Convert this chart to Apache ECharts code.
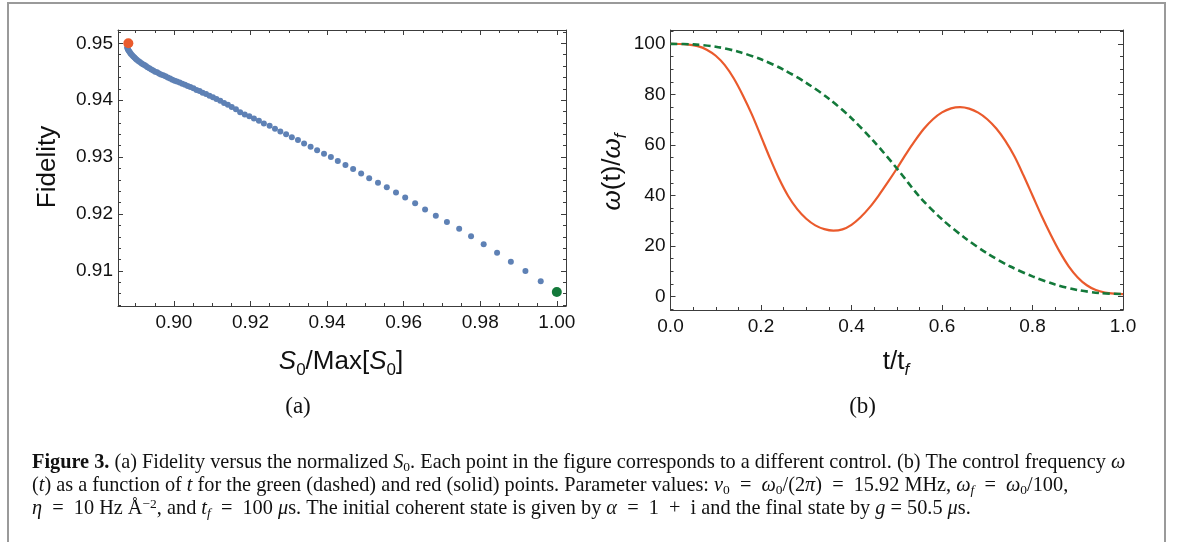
<!DOCTYPE html>
<html><head><meta charset="utf-8">
<script src="https://cdn.jsdelivr.net/npm/echarts@6/dist/echarts.min.js"></script>
<style>html,body{margin:0;padding:0;background:#fff}#c{width:1182px;height:542px}</style>
</head><body><div id="c"></div>
<script>
// ---------- data: panel (a) ----------
const fidX = [0.8878,0.8879,0.8880,0.8882,0.8884,0.8886,0.8888,0.8891,0.8894,0.8897,0.8900,0.8903,0.8907,0.8911,0.8915,0.8919,0.8923,0.8927,0.8931,0.8936,0.8941,0.8946,0.8951,0.8956,0.8961,0.8966,0.8972,0.8978,0.8984,0.8990,0.8996,0.9002,0.9008,0.9015,0.9022,0.9029,0.9036,0.9043,0.9051,0.9059,0.9067,0.9075,0.9084,0.9093,0.9102,0.9111,0.9121,0.9131,0.9141,0.9151,0.9162,0.9173,0.9185,
  0.9197,0.9209,0.9222,0.9235,0.9250,0.9264,0.9278,0.9293,0.9308,0.9324,0.9340,0.9357,0.9374,0.9392,0.9410,0.9428,0.9448,0.9468,0.9489,0.9510,0.9533,0.9556,0.9580,0.9604,0.9630,0.9656,0.9684,0.9713,0.9745,0.9776,0.9809,0.9844,0.9880,0.9918,0.9958];
const fidY = [0.9493,0.9491,0.9489,0.9487,0.9485,0.9483,0.9481,0.9479,0.9477,0.9475,0.9473,0.9471,0.9469,0.9467,0.9465,0.9463,0.9462,0.9460,0.9458,0.9456,0.9454,0.9452,0.9450,0.9449,0.9447,0.9445,0.9444,0.9442,0.9440,0.9438,0.9436,0.9434,0.9433,0.9431,0.9429,0.9427,0.9425,0.9423,0.9421,0.9418,0.9416,0.9413,0.9411,0.9408,0.9405,0.9402,0.9399,0.9395,0.9392,0.9388,0.9384,0.9379,0.9375,
  0.9372,0.9368,0.9364,0.9359,0.9355,0.9350,0.9345,0.9340,0.9335,0.9330,0.9324,0.9318,0.9312,0.9306,0.9300,0.9293,0.9286,0.9279,0.9271,0.9263,0.9255,0.9247,0.9238,0.9229,0.9219,0.9208,0.9197,0.9186,0.9174,0.9161,0.9147,0.9132,0.9116,0.9100,0.9082];
const redPoint = [0.8881, 0.9500];
const greenPoint = [1.0000, 0.9063];

// ---------- data: panel (b) ----------
const tRed = [0,0.02,0.04,0.06,0.08,0.10,0.12,0.14,0.16,0.18,0.20,0.22,0.24,0.26,0.28,0.30,0.32,0.34,0.36,0.38,0.40,0.42,0.44,0.46,0.48,0.50,0.52,0.54,0.56,0.58,0.60,0.62,0.64,0.66,0.68,0.70,0.72,0.74,0.76,0.78,0.80,0.82,0.84,0.86,0.88,0.90,0.92,0.94,0.96,0.98,1.00];
const wRed = [100,99.95,99.7,99.1,97.7,95.3,91.6,86.3,79.6,72.0,63.4,54.7,46.6,39.8,34.6,30.8,28.2,26.7,26.1,26.6,28.4,31.4,35.3,40.0,45.2,50.6,56.3,61.6,66.4,70.2,72.9,74.5,75.0,74.4,72.8,70.2,66.5,61.6,55.5,48.0,40.0,32.0,24.6,17.8,12.0,7.6,4.5,2.6,1.6,1.15,1.0];
const tGreen = [0,0.05,0.10,0.15,0.20,0.25,0.30,0.35,0.40,0.45,0.50,0.55,0.60,0.65,0.70,0.75,0.80,0.85,0.90,0.95,1.00];
const wGreen = [100,99.8,98.9,96.9,93.9,89.8,84.6,78.3,70.6,61.3,50.8,39.6,30.6,23.3,17.1,12.0,8.0,4.8,2.6,1.4,1.0];

// ---------- ticks ----------
const aXMajor = [0.90,0.92,0.94,0.96,0.98,1.00];
const aXMinor = [0.890,0.895,0.905,0.910,0.915,0.925,0.930,0.935,0.945,0.950,0.955,0.965,0.970,0.975,0.985,0.990,0.995];
const aYMajor = [0.91,0.92,0.93,0.94,0.95];
const aYMinor = [0.904,0.906,0.908,0.912,0.914,0.916,0.918,0.922,0.924,0.926,0.928,0.932,0.934,0.936,0.938,0.942,0.944,0.946,0.948,0.952];
const bXMajor = [0,0.2,0.4,0.6,0.8,1.0];
const bXMinor = [0.05,0.1,0.15,0.25,0.3,0.35,0.45,0.5,0.55,0.65,0.7,0.75,0.85,0.9,0.95];
const bYMajor = [0,20,40,60,80,100];
const bYMinor = [-5,5,10,15,25,30,35,45,50,55,65,70,75,85,90,95,105];

const SANS = 'Liberation Sans, Arial, sans-serif';
const SERIF = 'Liberation Serif, Times New Roman, serif';
const FRAME = '#3c3c3c';
const RED = '#EA5A2C', GREEN = '#13793A', BLUE = '#5E81B5';

function axesFor(dim, gridIndex, min, max, major, minor, fmt) {
  const pos = dim === 'x' ? ['bottom','top'] : ['left','right'];
  const out = [];
  pos.forEach((p, k) => {
    out.push({type:'value', gridIndex, min, max, position:p, splitLine:{show:false},
      axisLine:{show:true, onZero:false, lineStyle:{color:FRAME, width:1}},
      axisTick:{show:true, inside:true, length:5, customValues:major, lineStyle:{color:FRAME, width:1}},
      axisLabel:{show:k===0, customValues:major, formatter:fmt, fontSize:19, fontFamily:SANS, color:'#111', margin:(dim==='x'?7:5)}
    });
    out.push({type:'value', gridIndex, min, max, position:p, splitLine:{show:false},
      axisLine:{show:false, onZero:false},
      axisTick:{show:true, inside:true, length:3, customValues:minor, lineStyle:{color:FRAME, width:1}},
      axisLabel:{show:false}
    });
  });
  return out;
}

const xAxes = [].concat(
  axesFor('x', 0, 0.8854, 1.0024, aXMajor, aXMinor, v => v.toFixed(2)),
  axesFor('x', 1, 0, 1, bXMajor, bXMinor, v => v.toFixed(1))
);
const yAxes = [].concat(
  axesFor('y', 0, 0.90383, 0.95234, aYMajor, aYMinor, v => v.toFixed(2)),
  axesFor('y', 1, -5.3, 105.5, bYMajor, bYMinor, v => String(Math.round(v)))
);

function txt(text, x, y, opts) {
  return Object.assign({type:'text', x, y, silent:true, style:Object.assign({text, fill:'#111', fontFamily:SANS, fontSize:26, align:'center', verticalAlign:'middle'}, opts.style || {})}, opts.el || {});
}
const titleRich = {
  i:{fontStyle:'italic', fontSize:26, fontFamily:SANS, lineHeight:34, fill:'#111'},
  s:{fontSize:17, fontFamily:SANS, lineHeight:18, verticalAlign:'bottom', fill:'#111'},
  si:{fontSize:17, fontStyle:'italic', fontFamily:SANS, lineHeight:18, verticalAlign:'bottom', fill:'#111'}
};
const CAP = 20.3;
const capRich = {
  b:{fontWeight:'bold', fontSize:CAP, fontFamily:SERIF, lineHeight:23, fill:'#111'},
  i:{fontStyle:'italic', fontSize:CAP, fontFamily:SERIF, lineHeight:23, fill:'#111'},
  s:{fontSize:13.5, fontFamily:SERIF, lineHeight:13, verticalAlign:'bottom', fill:'#111'},
  si:{fontSize:13.5, fontStyle:'italic', fontFamily:SERIF, lineHeight:13, verticalAlign:'bottom', fill:'#111'},
  sup:{fontSize:13.5, fontFamily:SERIF, lineHeight:11, verticalAlign:'top', fill:'#111'}
};
const capStyle = {fontFamily:SERIF, fontSize:CAP, lineHeight:23, align:'left', rich:capRich};

const EQ = '\u2002=\u2002';
const caption1 = '{b|Figure 3.} (a) Fidelity versus the normalized {i|S}{s|0}. Each point in the figure corresponds to a different control. (b) The control frequency {i|ω}';
const caption2 = '({i|t}) as a function of {i|t} for the green (dashed) and red (solid) points. Parameter values: {i|ν}{s|0}' + EQ + '{i|ω}{s|0}/(2{i|π})' + EQ + '15.92 MHz, {i|ω}{si|f}' + EQ + '{i|ω}{s|0}/100,';
const caption3 = '{i|η}' + EQ + '10 Hz Å{sup|−2}, and {i|t}{si|f}' + EQ + '100 {i|μ}s. The initial coherent state is given by {i|α}' + EQ + '1\u2002+\u2002i and the final state by {i|g} = 50.5 {i|μ}s.';

const graphics = [
  {type:'rect', silent:true, shape:{x:8, y:3, width:1157, height:580}, style:{fill:'none', stroke:'#9a9a9a', lineWidth:2}},
  txt('Fidelity', 47.5, 167, {el:{rotation:Math.PI/2}}),
  txt('{i|S}{s|0}/Max[{i|S}{s|0}]', 341, 362, {style:{rich:titleRich, lineHeight:34}}),
  txt('{i|ω}(t)/{i|ω}{si|f}', 613, 172, {style:{rich:titleRich, lineHeight:34}, el:{rotation:Math.PI/2}}),
  txt('t/t{si|f}', 896, 362, {style:{rich:titleRich, lineHeight:34}}),
  txt('(a)', 298, 407, {style:{fontFamily:SERIF, fontSize:23}}),
  txt('(b)', 862.6, 407, {style:{fontFamily:SERIF, fontSize:23}}),
  txt(caption1, 32, 463, {style:capStyle}),
  txt(caption2, 32, 486, {style:capStyle}),
  txt(caption3, 32, 509, {style:capStyle})
];

const chart = echarts.init(document.getElementById('c'));
chart.setOption({
  animation:false,
  backgroundColor:'#fff',
  grid:[
    {left:118, top:30, width:448, height:276},
    {left:670.5, top:30, width:452.5, height:280}
  ],
  xAxis:xAxes,
  yAxis:yAxes,
  graphic:graphics,
  series:[
    {type:'scatter', xAxisIndex:0, yAxisIndex:0, data:fidX.map((x,i)=>[x, fidY[i]]), symbolSize:6, itemStyle:{color:BLUE, opacity:1}, z:2},
    {type:'scatter', xAxisIndex:0, yAxisIndex:0, data:[redPoint], symbolSize:10, itemStyle:{color:RED, opacity:1}, z:3},
    {type:'scatter', xAxisIndex:0, yAxisIndex:0, data:[greenPoint], symbolSize:10, itemStyle:{color:GREEN, opacity:1}, z:3},
    {type:'line', xAxisIndex:4, yAxisIndex:4, data:tRed.map((t,i)=>[t, wRed[i]]), smooth:0.3, showSymbol:false, lineStyle:{color:RED, width:2.2}, z:2},
    {type:'line', xAxisIndex:4, yAxisIndex:4, data:tGreen.map((t,i)=>[t, wGreen[i]]), smooth:0.3, showSymbol:false, lineStyle:{color:GREEN, width:2.6, type:[7,4]}, z:3}
  ]
});
</script>
</body></html>
